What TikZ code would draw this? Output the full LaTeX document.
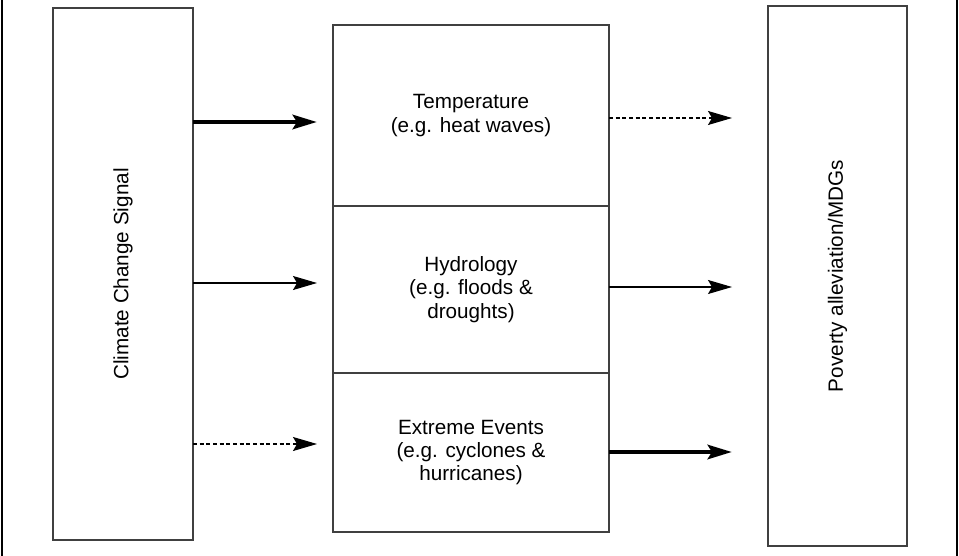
\documentclass[tikz,border=0pt]{standalone}
\usepackage{fontspec}
\setmainfont{Liberation Sans}
\usetikzlibrary{arrows.meta}

\begin{document}
\begin{tikzpicture}[
    x=0.75pt, y=-0.75pt,
    every node/.style={font=\fontsize{15.5}{17.5}\selectfont, inner sep=0pt, outer sep=0pt},
    tallbox/.style={rectangle, draw=black!75, line width=0.8pt, align=center},
    impact/.style={rectangle, draw=black!75, line width=0.8pt, minimum width=207pt, align=center},
    strong/.style={-{Stealth[length=18pt, width=10.5pt, inset=3pt]}, line width=3.6pt},
    medium/.style={-{Stealth[length=18pt, width=10.5pt, inset=3pt]}, line width=0.8pt},
    weak/.style={-{Stealth[length=18pt, width=10.5pt, inset=3pt]}, line width=0.8pt, dash pattern=on 3pt off 2pt}
]
\useasboundingbox (0,0) rectangle (959,556);

% Rahmen
\draw[line width=0.8pt] (2,0) -- (2,556);
\draw[line width=0.8pt] (957,0) -- (957,556);

% Kaesten (Positionen von Hand)
\node[tallbox, rotate=90, minimum width=399pt, minimum height=105pt] (signal) at (123,274) {Climate Change Signal};
\node[impact, minimum height=135.75pt] (temp) at (471,115.5) {Temperature\\(e.g. heat waves)};
\node[impact, minimum height=125.25pt] (hydro) at (471,289.5) {Hydrology\\(e.g. floods \&\\droughts)};
\node[impact, minimum height=119.25pt] (extreme) at (471,452.5) {Extreme Events\\(e.g. cyclones \&\\hurricanes)};
\node[tallbox, rotate=90, minimum width=405pt, minimum height=104.25pt] (poverty) at (837.5,276) {Poverty alleviation/MDGs};

% Pfeilspitzen
\coordinate (inT) at (317,122);
\coordinate (inH) at (317,283);
\coordinate (inE) at (317,444);
\coordinate (outT) at (732,118);
\coordinate (outH) at (732,287);
\coordinate (outE) at (732,452);

% Pfeile
\draw[strong] (signal.south |- inT) -- (inT);
\draw[medium] (signal.south |- inH) -- (inH);
\draw[weak] (signal.south |- inE) -- (inE);
\draw[weak] (temp.east |- outT) -- (outT);
\draw[medium] (hydro.east |- outH) -- (outH);
\draw[strong] (extreme.east |- outE) -- (outE);

\end{tikzpicture}
\end{document}
